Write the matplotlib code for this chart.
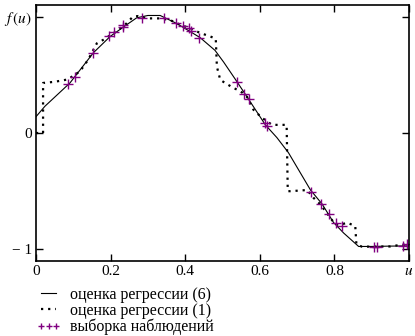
import matplotlib
matplotlib.use("Agg")
import matplotlib.pyplot as plt
from matplotlib.lines import Line2D

# regression estimate (6): smooth curve
u_smooth = [0.0, 0.024, 0.091, 0.154, 0.199, 0.234, 0.27, 0.30, 0.333, 0.378,
            0.44, 0.48, 0.503, 0.539, 0.57, 0.615, 0.646, 0.677, 0.736, 0.767,
            0.798, 0.825, 0.865, 0.90, 0.95, 1.0]
f_smooth = [0.14, 0.23, 0.43, 0.69, 0.83, 0.91, 0.99, 1.01, 1.01, 0.94,
            0.82, 0.71, 0.61, 0.44, 0.29, 0.07, -0.04, -0.17, -0.49, -0.61,
            -0.77, -0.86, -0.975, -0.975, -0.972, -0.97]

# regression estimate (1): step-like curve
u_step = [0.0, 0.019, 0.019, 0.05, 0.085, 0.118, 0.14, 0.163, 0.18, 0.199,
          0.221, 0.239, 0.26, 0.274, 0.297, 0.333, 0.36, 0.387, 0.413, 0.44,
          0.467, 0.482, 0.485, 0.494, 0.507, 0.53, 0.548, 0.566, 0.583, 0.606,
          0.633, 0.672, 0.675, 0.682, 0.727, 0.744, 0.758, 0.776, 0.789, 0.803,
          0.816, 0.834, 0.856, 0.859, 0.874, 0.95, 0.98, 1.0]
f_step = [0.0, 0.0, 0.43, 0.44, 0.46, 0.53, 0.63, 0.77, 0.80, 0.84,
          0.885, 0.93, 1.0, 1.005, 0.985, 0.985, 0.97, 0.93, 0.90, 0.86,
          0.83, 0.81, 0.57, 0.457, 0.43, 0.386, 0.36, 0.31, 0.20, 0.13,
          0.07, 0.07, -0.50, -0.50, -0.49, -0.557, -0.60, -0.67, -0.73, -0.786,
          -0.79, -0.77, -0.80, -0.957, -0.977, -0.975, -0.96, -0.96]

# observed sample
u_obs = [0.087, 0.105, 0.154, 0.197, 0.21, 0.233, 0.234, 0.284, 0.342, 0.376,
         0.394, 0.409, 0.415, 0.438, 0.54, 0.559, 0.57, 0.613, 0.619, 0.736,
         0.764, 0.785, 0.805, 0.821, 0.907, 0.915, 0.984, 0.995]
f_obs = [0.42, 0.485, 0.685, 0.83, 0.865, 0.914, 0.93, 0.985, 0.985, 0.948,
         0.92, 0.90, 0.88, 0.815, 0.44, 0.334, 0.294, 0.09, 0.063, -0.505,
         -0.614, -0.694, -0.771, -0.80, -0.98, -0.98, -0.97, -0.957]

x_ticks = [0, 0.2, 0.4, 0.6, 0.8, 1.0]
x_labels = ["0", "0.2", "0.4", "0.6", "0.8", r"$u$"]
y_ticks = [-1, 0, 1]
y_labels = ["\u2212 1", "0", r"$f\,(u)$"]

plt.rcParams["font.family"] = "Liberation Serif"
plt.rcParams["mathtext.fontset"] = "stix"

fig = plt.figure(figsize=(4.15, 3.36), dpi=100)
ax = fig.add_axes([0.0867, 0.2232, 0.8988, 0.7619])

ax.plot(u_smooth, f_smooth, color="black", lw=0.8)
ax.plot(u_step, f_step, color="black", lw=1.6, ls=(0, (1, 2.2)))
ax.plot(u_obs, f_obs, ls="none", marker="+", color="#800080", ms=7, mew=1.0)

ax.set_xlim(0, 1.0)
ax.set_ylim(-1.1, 1.1)
ax.set_xticks(x_ticks)
ax.set_xticklabels(x_labels)
ax.set_yticks(y_ticks)
ax.set_yticklabels(y_labels)
ax.tick_params(direction="in", top=True, right=True, length=5, width=1,
               labelsize=11, pad=3)
for s in ax.spines.values():
    s.set_linewidth(1.2)

handles = [
    Line2D([], [], color="black", lw=0.8),
    Line2D([], [], color="black", lw=1.6, ls=(0, (1, 2.2))),
    Line2D([], [], ls="none", marker="+", color="#800080", ms=5, mew=1.0),
]
labels = ["оценка регрессии (6)", "оценка регрессии (1)", "выборка наблюдений"]
fig.legend(handles, labels, loc="upper left", bbox_to_anchor=(0.088, 0.146),
           frameon=False, fontsize=11.5, handlelength=1.55, handletextpad=0.55,
           labelspacing=0.0, numpoints=3, borderpad=0, borderaxespad=0)

fig.savefig("out.png", dpi=100)
